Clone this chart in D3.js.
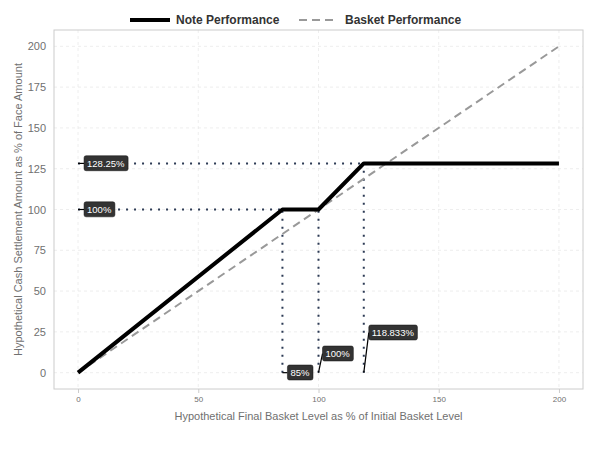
<!DOCTYPE html>
<html><head><meta charset="utf-8">
<script src="https://cdn.jsdelivr.net/npm/d3@7"></script>
<style>body{margin:0;background:#fff}svg{display:block}text{font-family:"Liberation Sans",Arial,sans-serif}</style>
</head><body><svg id="c" width="600" height="450"></svg>
<script>
const noteX = [0, 85, 100, 118.833, 200];
const noteY = [0, 100, 100, 128.25, 128.25];
const basketX = [0, 200];
const basketY = [0, 200];
const xTicks = [0, 50, 100, 150, 200];
const yTicks = [0, 25, 50, 75, 100, 125, 150, 175, 200];
const hRefs = [{y: 128.25, x: 118.833}, {y: 100, x: 85}];
const vRefs = [{x: 85, y: 100}, {x: 100, y: 100}, {x: 118.833, y: 128.25}];
const yLabels = ["128.25%", "100%"];
const xLabels = ["85%", "100%", "118.833%"];

const svg = d3.select("#c");
const L = 54, R = 583, T = 30, B = 389;
const x = d3.scaleLinear().domain([-10, 210]).range([L, R]);
const y = d3.scaleLinear().domain([-10, 210]).range([B, T]);

// grid
const g = svg.append("g");
g.selectAll(".gx").data(xTicks).enter().append("line")
  .attr("x1", d => x(d)).attr("x2", d => x(d)).attr("y1", T).attr("y2", B)
  .attr("stroke", "#e3e3e3").attr("stroke-width", 0.6).attr("stroke-dasharray", "3,3");
g.selectAll(".gy").data(yTicks).enter().append("line")
  .attr("y1", d => y(d)).attr("y2", d => y(d)).attr("x1", L).attr("x2", R)
  .attr("stroke", "#e3e3e3").attr("stroke-width", 0.6).attr("stroke-dasharray", "3,3");

// axes
const xAxis = d3.axisBottom(x).tickValues(xTicks).tickSize(4).tickPadding(3);
const xa = svg.append("g").attr("transform", `translate(0,${B})`).call(xAxis);
xa.select(".domain").remove();
xa.selectAll("line").attr("stroke", "#cccccc");
xa.selectAll("text").attr("fill", "#707070").style("font-size", "8px");

const yAxis = d3.axisLeft(y).tickValues(yTicks).tickSize(0).tickPadding(8);
const ya = svg.append("g").attr("transform", `translate(${L},0)`).call(yAxis);
ya.select(".domain").remove();
ya.selectAll("text").attr("fill", "#707070").style("font-size", "11px");

// panel border
svg.append("rect").attr("x", L).attr("y", T).attr("width", R - L).attr("height", B - T)
  .attr("fill", "none").attr("stroke", "#cccccc").attr("stroke-width", 1);

// dotted reference lines
const refColor = "#2d3b55";
svg.selectAll(".hr").data(hRefs).enter().append("line")
  .attr("x1", x(0)).attr("x2", d => x(d.x)).attr("y1", d => y(d.y)).attr("y2", d => y(d.y))
  .attr("stroke", refColor).attr("stroke-width", 2).attr("stroke-dasharray", "2,6");
svg.selectAll(".vr").data(vRefs).enter().append("line")
  .attr("x1", d => x(d.x)).attr("x2", d => x(d.x)).attr("y1", y(0)).attr("y2", d => y(d.y))
  .attr("stroke", refColor).attr("stroke-width", 2).attr("stroke-dasharray", "2,6");

// basket line
const line = d3.line().x(d => x(d[0])).y(d => y(d[1]));
svg.append("path").datum(basketX.map((v, i) => [v, basketY[i]]))
  .attr("d", line).attr("fill", "none").attr("stroke", "#999999")
  .attr("stroke-width", 2).attr("stroke-dasharray", "8,5");
// note line
svg.append("path").datum(noteX.map((v, i) => [v, noteY[i]]))
  .attr("d", line).attr("fill", "none").attr("stroke", "#000")
  .attr("stroke-width", 4).attr("stroke-linejoin", "round");

// labels
function label(ax, ay, lx, ly, txt) {
  svg.append("line").attr("x1", ax).attr("y1", ay).attr("x2", lx).attr("y2", ly)
    .attr("stroke", "#000").attr("stroke-width", 1.2);
  const t = svg.append("text").attr("x", lx + 3).attr("y", ly).attr("dy", "0.35em")
    .attr("fill", "#fff").style("font-size", "9.5px").text(txt);
  const bb = t.node().getBBox();
  svg.insert("rect", () => t.node())
    .attr("x", lx).attr("y", bb.y - 2).attr("width", bb.width + 6).attr("height", bb.height + 4)
    .attr("rx", 2).attr("fill", "#333").attr("stroke", "#111").attr("stroke-width", 0.5);
}
label(x(0), y(hRefs[0].y), x(0) + 6, y(hRefs[0].y), yLabels[0]);
label(x(0), y(hRefs[1].y), x(0) + 6, y(hRefs[1].y), yLabels[1]);
label(x(vRefs[0].x), y(0), x(vRefs[0].x) + 5, y(0), xLabels[0]);
label(x(vRefs[1].x), y(0), x(vRefs[1].x) + 4, y(0) - 19, xLabels[1]);
label(x(vRefs[2].x), y(0), x(vRefs[2].x) + 5, y(0) - 40, xLabels[2]);

// axis titles
svg.append("text").attr("x", (L + R) / 2).attr("y", 420).attr("text-anchor", "middle")
  .attr("fill", "#707070").style("font-size", "11px")
  .text("Hypothetical Final Basket Level as % of Initial Basket Level");
svg.append("text").attr("transform", `translate(22,${(T + B) / 2}) rotate(-90)`)
  .attr("text-anchor", "middle").attr("fill", "#707070").style("font-size", "11px")
  .text("Hypothetical Cash Settlement Amount as % of Face Amount");

// legend
const lg = svg.append("g");
lg.append("line").attr("x1", 130).attr("x2", 170).attr("y1", 20).attr("y2", 20)
  .attr("stroke", "#000").attr("stroke-width", 4);
lg.append("text").attr("x", 176).attr("y", 20).attr("dy", "0.35em").attr("fill", "#333")
  .style("font-size", "12px").style("font-weight", "bold").text("Note Performance");
lg.append("line").attr("x1", 299).attr("x2", 337).attr("y1", 20).attr("y2", 20)
  .attr("stroke", "#999").attr("stroke-width", 2).attr("stroke-dasharray", "8,5");
lg.append("text").attr("x", 345).attr("y", 20).attr("dy", "0.35em").attr("fill", "#333")
  .style("font-size", "12px").style("font-weight", "bold").text("Basket Performance");
</script></body></html>
